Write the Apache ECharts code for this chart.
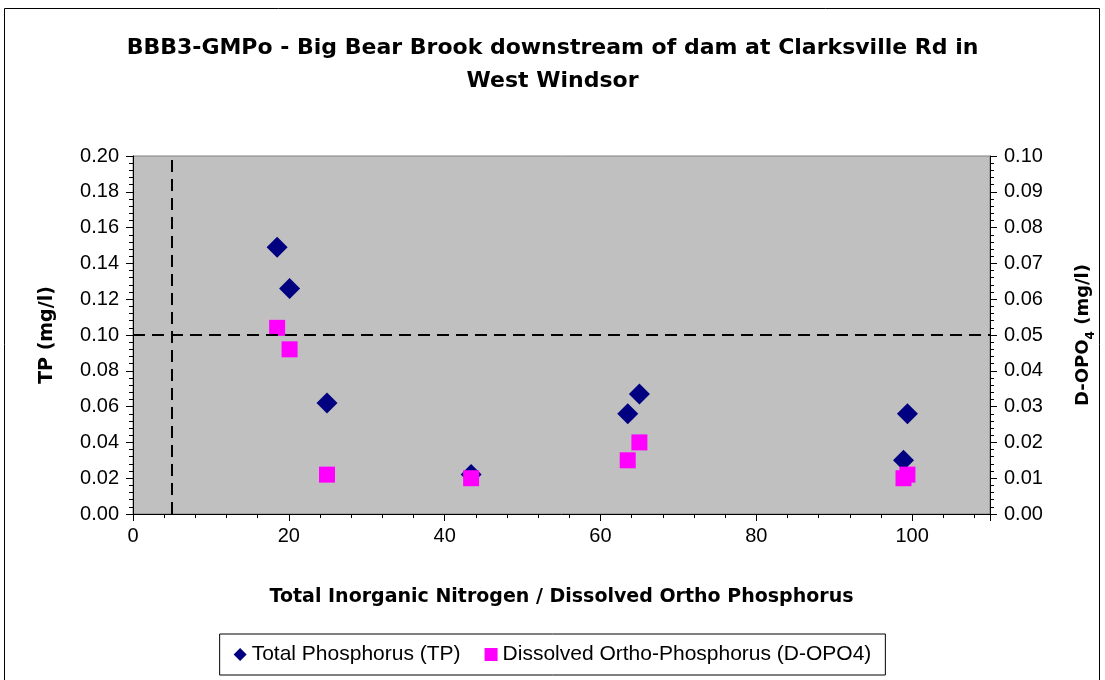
<!DOCTYPE html>
<html>
<head>
  <meta charset="utf-8">
  <title>BBB3-GMPo</title>
  <script src="https://cdn.jsdelivr.net/npm/echarts/dist/echarts.min.js"></script>
  <style>
    body { margin: 0; background: #fff; }
    #main { width: 1105px; height: 680px; }
  </style>
</head>
<body>
<div id="main"></div>
<script>
  // ratio TIN / DOP for each sample, shared by both series
  const ratio = [18.5, 20.1, 24.9, 43.4, 63.5, 65.0, 98.9, 99.4];
  const tp = [0.149, 0.126, 0.062, 0.022, 0.056, 0.067, 0.030, 0.056];
  const dopo4 = [0.052, 0.046, 0.011, 0.010, 0.015, 0.020, 0.010, 0.011];

  const tpLimit = 0.1;
  const ratioLimit = 5;

  const font = 'Liberation Sans, Arial, sans-serif';
  const boldFont = 'DejaVu Sans, Liberation Sans, sans-serif';

  var myChart = echarts.init(document.getElementById('main'));

  var option = {
    animation: false,
    textStyle: { fontFamily: font, color: '#000' },
    title: {
      text: 'BBB3-GMPo - Big Bear Brook downstream of dam at Clarksville Rd in\nWest Windsor',
      left: 'center',
      top: 27,
      textStyle: {
        fontFamily: boldFont,
        fontSize: 22,
        fontWeight: 'bold',
        lineHeight: 33,
        color: '#000'
      }
    },
    legend: {
      bottom: 5,
      left: 'center',
      orient: 'horizontal',
      borderColor: '#000',
      borderWidth: 1,
      padding: [10, 14],
      itemGap: 24,
      itemWidth: 13,
      itemHeight: 13,
      textStyle: { fontFamily: font, fontSize: 21, color: '#000' },
      data: [
        { name: 'Total Phosphorus (TP)', icon: 'diamond' },
        { name: 'Dissolved Ortho-Phosphorus (D-OPO4)', icon: 'rect' }
      ]
    },
    graphic: [
      {
        type: 'rect',
        shape: { x: 4.5, y: 8.5, width: 1095, height: 700 },
        style: { fill: 'none', stroke: '#000', lineWidth: 1 },
        silent: true,
        z: -10
      }
    ],
    grid: {
      left: 133,
      right: 115,
      top: 156,
      bottom: 166,
      show: true,
      backgroundColor: '#c0c0c0',
      borderColor: '#808080',
      borderWidth: 1
    },
    xAxis: {
      type: 'value',
      min: 0,
      max: 110,
      interval: 20,
      name: 'Total Inorganic Nitrogen / Dissolved Ortho Phosphorus',
      nameLocation: 'middle',
      nameGap: 74,
      nameTextStyle: { fontFamily: boldFont, fontSize: 19, fontWeight: 'bold', color: '#000' },
      axisLine: { onZero: false, lineStyle: { color: '#000', width: 1 } },
      axisTick: { length: 7, lineStyle: { color: '#000' } },
      minorTick: { show: true, splitNumber: 5, length: 4, lineStyle: { color: '#000' } },
      axisLabel: { fontSize: 20, color: '#000', margin: 12, showMaxLabel: false },
      splitLine: { show: false }
    },
    yAxis: [
      {
        type: 'value',
        min: 0,
        max: 0.2,
        interval: 0.02,
        name: 'TP (mg/l)',
        nameLocation: 'middle',
        nameGap: 76,
        nameTextStyle: { fontFamily: boldFont, fontSize: 19, fontWeight: 'bold', color: '#000' },
        axisLine: { show: true, lineStyle: { color: '#000', width: 1 } },
        axisTick: { length: 7, lineStyle: { color: '#000' } },
        minorTick: { show: true, splitNumber: 5, length: 4, lineStyle: { color: '#000' } },
        axisLabel: {
          fontSize: 20, color: '#000', margin: 14,
          formatter: function (v) { return v.toFixed(2); }
        },
        splitLine: { show: false }
      },
      {
        type: 'value',
        position: 'right',
        min: 0,
        max: 0.1,
        interval: 0.01,
        name: '{a|D-OPO}{s|4}{a| (mg/l)}',
        nameLocation: 'middle',
        nameRotate: 90,
        nameGap: 80,
        nameTextStyle: {
          rich: {
            a: { fontFamily: boldFont, fontSize: 18, fontWeight: 'bold', color: '#000', lineHeight: 22, verticalAlign: 'bottom' },
            s: { fontFamily: boldFont, fontSize: 12, fontWeight: 'bold', color: '#000', lineHeight: 22, verticalAlign: 'bottom', padding: [0, 0, -5, 0] }
          }
        },
        axisLine: { show: true, lineStyle: { color: '#000', width: 1 } },
        axisTick: { length: 7, lineStyle: { color: '#000' } },
        minorTick: { show: true, splitNumber: 5, length: 4, lineStyle: { color: '#000' } },
        axisLabel: {
          fontSize: 20, color: '#000', margin: 14,
          formatter: function (v) { return v.toFixed(2); }
        },
        splitLine: { show: false }
      }
    ],
    series: [
      {
        name: 'Total Phosphorus (TP)',
        type: 'scatter',
        yAxisIndex: 0,
        symbol: 'diamond',
        symbolSize: 21,
        itemStyle: { color: '#000080', opacity: 1 },
        data: ratio.map(function (r, i) { return [r, tp[i]]; }),
        z: 3,
        markLine: {
          silent: true,
          symbol: 'none',
          label: { show: false },
          lineStyle: { color: '#000', type: [12, 7], width: 2 },
          data: [
            { yAxis: tpLimit },
            { xAxis: ratioLimit }
          ]
        }
      },
      {
        name: 'Dissolved Ortho-Phosphorus (D-OPO4)',
        type: 'scatter',
        yAxisIndex: 1,
        symbol: 'rect',
        symbolSize: 16,
        itemStyle: { color: '#ff00ff', opacity: 1 },
        data: ratio.map(function (r, i) { return [r, dopo4[i]]; }),
        z: 4
      }
    ]
  };

  myChart.setOption(option);
</script>
</body>
</html>
